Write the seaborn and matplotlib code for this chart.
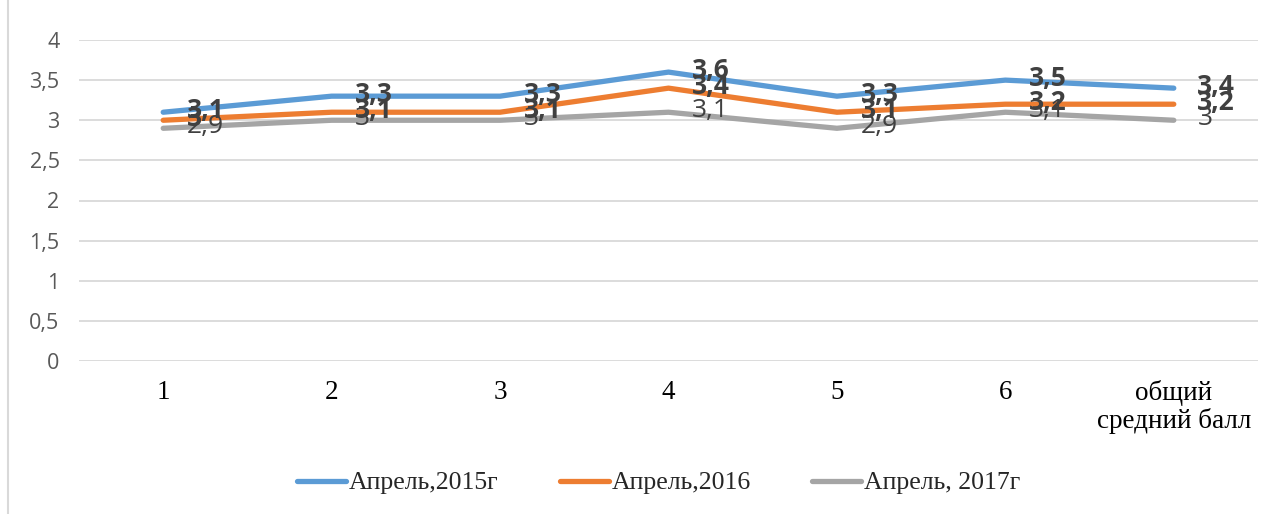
import matplotlib
matplotlib.use("Agg")
import matplotlib.pyplot as plt
from matplotlib.patches import Rectangle
from matplotlib.ticker import FuncFormatter
import seaborn as sns
import pandas as pd

categories = ["1", "2", "3", "4", "5", "6", "общий\nсредний балл"]
series_names = ["Апрель,2015г", "Апрель,2016", "Апрель, 2017г"]
values_2015 = [3.1, 3.3, 3.3, 3.6, 3.3, 3.5, 3.4]
values_2016 = [3.0, 3.1, 3.1, 3.4, 3.1, 3.2, 3.2]
values_2017 = [2.9, 3.0, 3.0, 3.1, 2.9, 3.1, 3.0]
colors = ["#5B9BD5", "#ED7D31", "#A5A5A5"]
label_weights = ["bold", "bold", "normal"]

rows = []
for name, vals in zip(series_names, [values_2015, values_2016, values_2017]):
    for i, v in enumerate(vals):
        rows.append({"pos": i, "value": v, "series": name})
df = pd.DataFrame(rows)

sns.set_theme(style="white")
plt.rcParams["font.family"] = ["DejaVu Sans"]

fig = plt.figure(figsize=(12.77, 5.14), dpi=100)
ax = fig.add_axes([79 / 1277, 1 - 361 / 514, (1258 - 79) / 1277, (361 - 40) / 514])

sns.lineplot(data=df, x="pos", y="value", hue="series", palette=colors,
             hue_order=series_names, linewidth=3.8, ax=ax, legend=False,
             solid_capstyle="round", solid_joinstyle="round")

def comma(v):
    return f"{v:g}".replace(".", ",")

for name, vals, w in zip(series_names, [values_2015, values_2016, values_2017], label_weights):
    for i, v in enumerate(vals):
        ax.annotate(comma(v), (i, v), xytext=(17, 1), textcoords="offset points",
                    ha="left", va="center", fontsize=19, fontweight=w,
                    color="#404040", family="Open Sans")

ax.set_xlim(-0.5, 6.5)
ax.set_ylim(0, 4)
ax.set_yticks([0, 0.5, 1, 1.5, 2, 2.5, 3, 3.5, 4])
ax.yaxis.set_major_formatter(FuncFormatter(lambda v, p: comma(v)))
ax.set_xticks(range(len(categories)))
ax.set_xticklabels(categories, family="Liberation Serif", fontsize=19.5, color="black",
                   linespacing=1.1)
for t in ax.get_yticklabels():
    t.set_family("Open Sans")
    t.set_fontsize(15.5)
    t.set_color("#595959")
ax.tick_params(axis="y", length=0, pad=14)
ax.tick_params(axis="x", length=0, pad=14)
ax.grid(axis="y", color="#d9d9d9", linewidth=1.3)
ax.set_axisbelow(True)
for s in ax.spines.values():
    s.set_visible(False)
ax.set_xlabel("")
ax.set_ylabel("")

handles = [plt.Line2D([], [], color=c, linewidth=3.8, solid_capstyle="round") for c in colors]
fig.legend(handles, series_names, loc="center", bbox_to_anchor=(0.5157, 1 - 483 / 514),
           ncol=3, frameon=False, handlelength=1.9, handletextpad=0.1,
           columnspacing=2.4, prop={"family": "Liberation Serif", "size": 18.5})

fig.patches.append(Rectangle((8 / 1277, -0.1), 2, 1.3, transform=fig.transFigure,
                             fill=False, edgecolor="#d9d9d9", linewidth=1.5))

fig.savefig("out.png", dpi=100)
